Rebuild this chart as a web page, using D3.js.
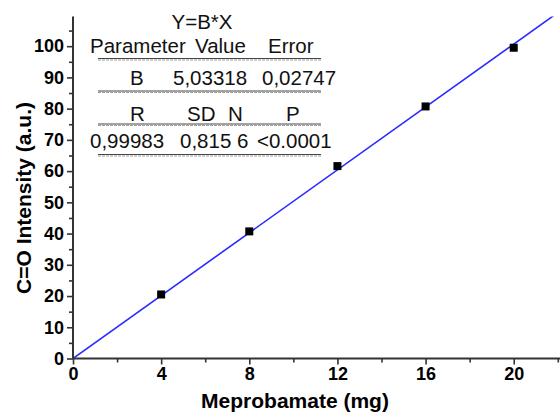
<!DOCTYPE html>
<html><head><meta charset="utf-8">
<script src="https://cdn.jsdelivr.net/npm/d3@7"></script>
<style>body{margin:0;background:#fff}svg{display:block}</style>
</head><body>
<svg id="c" width="560" height="412"></svg>
<script>
const xValues = [4, 8, 12, 16, 20];
const yValues = [20.5, 40.7, 61.6, 80.7, 99.5];
const slopeB = 5.03318;
const xMajorTicks = [0, 4, 8, 12, 16, 20];
const xMinorTicks = [2, 6, 10, 14, 18, 22];
const yMajorTicks = [0, 10, 20, 30, 40, 50, 60, 70, 80, 90, 100];
const yMinorTicks = [5, 15, 25, 35, 45, 55, 65, 75, 85, 95, 105];
const tableTitle = "Y=B*X";
const tableRows = [
  ["Parameter", "Value", "Error"],
  ["B", "5,03318", "0,02747"],
  ["R", "SD", "N", "P"],
  ["0,99983", "0,815 6", "<0.0001"]
];

const svg = d3.select("#c");
const x = d3.scaleLinear().domain([0, 22.1]).range([73, 560]);
const y = d3.scaleLinear().domain([0, 109.5]).range([358.5, 16.5]);
const axisColor = "#333";
const font = "Arial, 'Liberation Sans', sans-serif";

svg.append("defs").append("clipPath").attr("id", "clip")
  .append("rect").attr("x", 73).attr("y", 16.5).attr("width", 487).attr("height", 342);

// fit line
svg.append("line").attr("clip-path", "url(#clip)")
  .attr("x1", x(0)).attr("y1", y(0))
  .attr("x2", x(22)).attr("y2", y(slopeB * 22))
  .attr("stroke", "#2b2bff").attr("stroke-width", 1.6);

// points
svg.selectAll("rect.pt").data(xValues).join("rect").attr("class", "pt")
  .attr("x", (d) => x(d) - 4).attr("y", (d, i) => y(yValues[i]) - 4)
  .attr("width", 8).attr("height", 8).attr("fill", "#000");

// axes
const xAxis = svg.append("g").attr("transform", `translate(0,${y(0)})`)
  .call(d3.axisBottom(x).tickValues(xMajorTicks).tickSize(6).tickPadding(3).tickFormat(d3.format("d")));
const xMinor = svg.append("g").attr("transform", `translate(0,${y(0)})`)
  .call(d3.axisBottom(x).tickValues(xMinorTicks).tickSize(4).tickFormat(""));
const yAxis = svg.append("g").attr("transform", `translate(${x(0)},0)`)
  .call(d3.axisLeft(y).tickValues(yMajorTicks).tickSize(6).tickPadding(3).tickFormat(d3.format("d")));
const yMinor = svg.append("g").attr("transform", `translate(${x(0)},0)`)
  .call(d3.axisLeft(y).tickValues(yMinorTicks).tickSize(4).tickFormat(""));

[xAxis, xMinor, yAxis, yMinor].forEach(g => {
  g.select(".domain").attr("stroke", axisColor).attr("stroke-width", 2);
  g.selectAll(".tick line").attr("stroke", axisColor).attr("stroke-width", 1.6);
  g.selectAll("text").attr("fill", "#000").attr("font-family", font)
    .attr("font-weight", "bold").attr("font-size", 18);
});
xMinor.select(".domain").remove();
yMinor.select(".domain").remove();
xAxis.select(".domain").attr("d", `M${x(0)},0H560`);
yAxis.select(".domain").attr("d", `M0,${y(0)}V16.5`);

// axis titles
svg.append("text").attr("x", 295).attr("y", 408).attr("text-anchor", "middle")
  .attr("font-family", font).attr("font-weight", "bold").attr("font-size", 21)
  .text("Meprobamate (mg)");
svg.append("text").attr("transform", "translate(31,198) rotate(-90)").attr("text-anchor", "middle")
  .attr("font-family", font).attr("font-weight", "bold").attr("font-size", 21)
  .text("C=O Intensity (a.u.)");

// table
const tbl = svg.append("g").attr("font-family", font).attr("font-size", 20.5).attr("fill", "#111");
tbl.append("text").attr("x", 202).attr("y", 29).attr("text-anchor", "middle").text(tableTitle);
const rowY = [53, 85, 121, 148];
const colX = [
  [90, 195, 268],
  [130, 173, 262],
  [130, 187, 228, 286],
  [90, 180, 257]
];
tableRows.forEach((row, r) => {
  row.forEach((t, c) => {
    tbl.append("text").attr("x", colX[r][c]).attr("y", rowY[r]).text(t);
  });
});
const ruleY = [58.5, 91, 124, 154.5];
ruleY.forEach(ry => {
  svg.append("line").attr("x1", 98).attr("x2", 321).attr("y1", ry).attr("y2", ry)
    .attr("stroke", "#444").attr("stroke-width", 1);
  svg.append("line").attr("x1", 98).attr("x2", 321).attr("y1", ry + 1.5).attr("y2", ry + 1.5)
    .attr("stroke", "#888").attr("stroke-width", 0.8).attr("stroke-dasharray", "3,1");
});
</script>
</body></html>
